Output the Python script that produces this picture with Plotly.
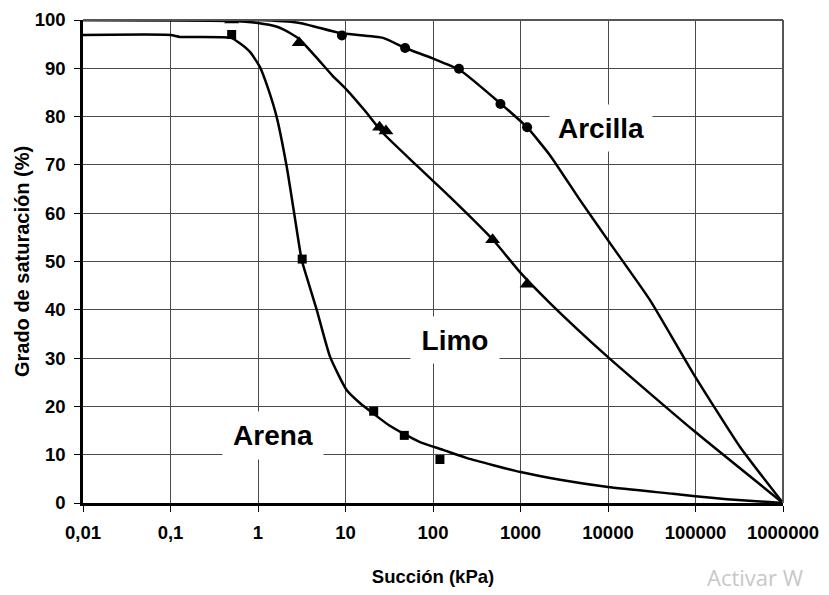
import math
import plotly.graph_objects as go

# Measured points
arena_x = [0.5, 3.2, 21, 47, 120]
arena_y = [97, 50.5, 19, 14, 9]
limo_x = [0.5, 2.95, 24.5, 29, 480, 1190]
limo_y = [100, 95.3, 77.8, 77.0, 54.5, 45.3]
arcilla_x = [9.1, 48, 198, 590, 1190]
arcilla_y = [96.8, 94.2, 89.9, 82.6, 77.8]

# Fitted curves
arena_cx = [0.01, 0.1, 0.128, 0.49, 0.62, 0.81, 1.05, 1.30, 1.63, 2.13, 2.59, 3.16, 3.73, 4.69, 6.65, 10.3, 14.6,
            21.2, 31.4, 46.7, 71, 130, 245, 1000, 2830, 10000, 55300, 100000, 229000, 1000000]
arena_cy = [96.9, 96.9, 96.5, 96.3, 95.2, 93.4, 90.3, 85.9, 80.0, 69.6, 60.0, 50.3, 45.9, 40.0, 30.3, 23.4, 20.7,
            18.4, 16.1, 14.3, 12.6, 11.0, 9.3, 6.4, 4.8, 3.3, 1.9, 1.4, 0.8, 0]
limo_cx = [0.01, 0.49, 1.0, 1.65, 2.32, 3.02, 4.72, 7.0, 10.4, 16.7, 26.8, 64, 156, 485, 986, 2170, 10000, 93600, 1000000]
limo_cy = [100, 99.8, 99.4, 98.6, 97.3, 95.9, 92.1, 88.6, 85.5, 81.2, 76.6, 70.0, 63.4, 54.5, 47.8, 41.4, 30.2, 15.1, 0]
arcilla_cx = [0.01, 1.0, 3.0, 8.65, 26.8, 47.9, 97.5, 204, 583, 1186, 2170, 4790, 10540, 30200, 93600, 323000, 1000000]
arcilla_cy = [100, 100, 99.4, 97.3, 96.3, 94.2, 92.1, 89.6, 82.8, 77.8, 72.0, 62.7, 53.8, 42.0, 26.9, 11.6, 0]

tick_vals = [0.01, 0.1, 1, 10, 100, 1000, 10000, 100000, 1000000]
tick_text = ["0,01", "0,1", "1", "10", "100", "1000", "10000", "100000", "1000000"]
y_ticks = [0, 10, 20, 30, 40, 50, 60, 70, 80, 90, 100]

labels = ["Arcilla", "Limo", "Arena"]
label_x = [8300, 178, 1.48]
label_y = [77.6, 33.7, 13.9]

FONT = "Liberation Sans, Arial, sans-serif"

fig = go.Figure()
for cx, cy in [(arena_cx, arena_cy), (limo_cx, limo_cy), (arcilla_cx, arcilla_cy)]:
    fig.add_trace(go.Scatter(x=cx, y=cy, mode="lines",
                             line=dict(color="black", width=2.5, shape="spline", smoothing=0.5),
                             hoverinfo="skip", showlegend=False))
fig.add_trace(go.Scatter(x=arena_x, y=arena_y, mode="markers", name="Arena",
                         marker=dict(symbol="square", size=9, color="black"), showlegend=False))
fig.add_trace(go.Scatter(x=limo_x, y=limo_y, mode="markers", name="Limo",
                         marker=dict(symbol="triangle-up", size=13, color="black"), showlegend=False))
fig.add_trace(go.Scatter(x=arcilla_x, y=arcilla_y, mode="markers", name="Arcilla",
                         marker=dict(symbol="circle", size=10, color="black"), showlegend=False))

font_lbl = dict(family=FONT, size=28, color="black")
sizes = [(102, 46), (88, 46), (100, 47)]
for txt, x, y, (w, h) in zip(labels, label_x, label_y, sizes):
    fig.add_annotation(x=math.log10(x), y=y, xref="x", yref="y", text="<b>" + txt + "</b>", showarrow=False,
                       font=font_lbl, bgcolor="white", width=w, height=h, borderpad=0,
                       xanchor="center", yanchor="middle")

fig.add_annotation(x=(706 - 83) / 700, y=(503 - 577) / 483, xref="paper", yref="paper", text="Activar W",
                   showarrow=False, font=dict(family="Open Sans, sans-serif", size=22, color="#c8c8c8"),
                   xanchor="left", yanchor="middle", borderpad=0)

tickfont = dict(family=FONT, size=18.5, color="black")
fig.update_xaxes(type="log", range=[-2, 6], tickvals=tick_vals, ticktext=["<b>" + t + "</b>" for t in tick_text],
                 tickfont=tickfont, showgrid=True, gridcolor="#4a4a4a", gridwidth=1.2,
                 ticks="outside", ticklen=6, tickcolor="black", showline=True, linecolor="black",
                 linewidth=2.5, zeroline=False, ticklabelstandoff=5, automargin=False,
                 title=dict(text="<b>Succión (kPa)</b>", font=dict(family=FONT, size=18.5, color="black"), standoff=29))
fig.update_yaxes(range=[0, 100], tickvals=y_ticks, ticktext=["<b>" + str(v) + "</b>" for v in y_ticks],
                 tickfont=tickfont, showgrid=True,
                 gridcolor="#4a4a4a", gridwidth=1.2, ticks="outside", ticklen=6, tickcolor="black",
                 showline=True, linecolor="black", linewidth=2.5, zeroline=False, ticklabelstandoff=5,
                 automargin=False,
                 title=dict(text="<b>Grado de saturación (%)</b>", font=dict(family=FONT, size=20, color="black"), standoff=0))
# top and right borders
fig.add_shape(type="line", xref="paper", yref="paper", x0=0, x1=1, y0=1, y1=1, line=dict(color="#555", width=2))
fig.add_shape(type="line", xref="paper", yref="paper", x0=1, x1=1, y0=0, y1=1, line=dict(color="#555", width=2))

fig.update_layout(width=829, height=595, margin=dict(l=83, r=46, t=20, b=92),
                  plot_bgcolor="white", paper_bgcolor="white",
                  font=dict(family=FONT))
fig.write_html("out.html")
